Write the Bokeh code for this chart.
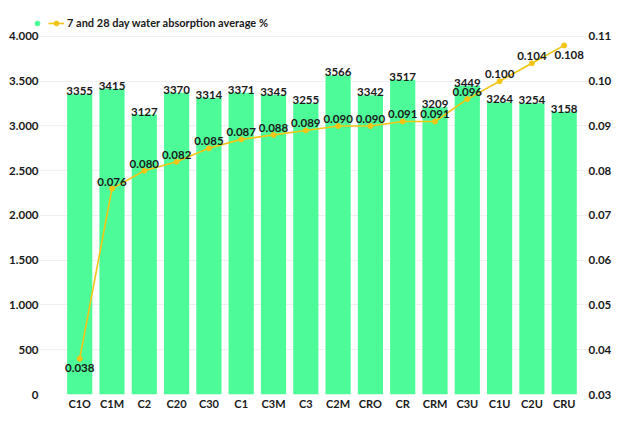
from bokeh.plotting import figure
from bokeh.models import (ColumnDataSource, Range1d, LinearAxis,
                          FixedTicker, Legend, LegendItem)
from bokeh.core.properties import value
from bokeh.embed import file_html
from bokeh.resources import INLINE

# ---- data ----
categories = ["C1O", "C1M", "C2", "C20", "C30", "C1", "C3M", "C3",
              "C2M", "CRO", "CR", "CRM", "C3U", "C1U", "C2U", "CRU"]
strength = [3355, 3415, 3127, 3370, 3314, 3371, 3345, 3255,
            3566, 3342, 3517, 3209, 3449, 3264, 3254, 3158]
absorption = [0.038, 0.076, 0.080, 0.082, 0.085, 0.087, 0.088, 0.089,
              0.090, 0.090, 0.091, 0.091, 0.096, 0.100, 0.104, 0.108]
left_ticks = [0, 500, 1000, 1500, 2000, 2500, 3000, 3500, 4000]
left_tick_labels = ["0", "500", "1.000", "1.500", "2.000", "2.500", "3.000", "3.500", "4.000"]
right_ticks = [0.03, 0.04, 0.05, 0.06, 0.07, 0.08, 0.09, 0.10, 0.11]
right_tick_labels = ["0.03", "0.04", "0.05", "0.06", "0.07", "0.08", "0.09", "0.10", "0.11"]
series_name = "7 and 28 day water absorption average %"

GREEN = "#4dfc98"
GOLD = "#f2c516"
TXT = "#1a1a1a"
FONT = "Lato"

# ---- layout (pixels) ----
W, H = 624, 412
FRAME_L, FRAME_R, FRAME_T, FRAME_B = 25, 590, 12, 395
AXIS_TOP_PX = 36          # where the top tick (4000 / 0.11) sits
FIRST_CENTER_PX = 79.2    # centre of the first category
STEP_PX = 32.3            # category spacing

frame_h = FRAME_B - FRAME_T
scale = frame_h / (FRAME_B - AXIS_TOP_PX)
x_start = -(FIRST_CENTER_PX - FRAME_L) / STEP_PX
x_end = x_start + (FRAME_R - FRAME_L) / STEP_PX

p = figure(width=W, height=H, output_backend="svg", toolbar_location=None,
           x_range=Range1d(x_start, x_end),
           y_range=Range1d(left_ticks[0], left_ticks[0] + (left_ticks[-1] - left_ticks[0]) * scale),
           min_border_left=FRAME_L, min_border_right=W - FRAME_R,
           min_border_top=FRAME_T, min_border_bottom=H - FRAME_B)
p.extra_y_ranges = {"abs": Range1d(right_ticks[0],
                                   right_ticks[0] + (right_ticks[-1] - right_ticks[0]) * scale)}
p.outline_line_color = None
p.background_fill_color = "white"

xs = list(range(len(categories)))
src = ColumnDataSource(dict(
    x=xs, strength=strength, absorption=absorption,
    slabel=[str(v) for v in strength],
))

bars = p.vbar(x="x", top="strength", width=0.78, source=src,
              fill_color=GREEN, line_color=None)
line = p.line(x="x", y="absorption", source=src, y_range_name="abs",
              line_color=GOLD, line_width=1.6)
pts = p.scatter(x="x", y="absorption", source=src, y_range_name="abs",
                size=5, fill_color=GOLD, line_color=GOLD)
# legend-only marker for the bar series (not drawn in the plot)
bar_key = p.scatter(x="x", y="strength", source=src, size=6,
                    fill_color=GREEN, line_color=GREEN, visible=False)

# bar labels
p.text(x="x", y="strength", text="slabel", source=src,
       text_align="center", text_baseline="bottom", y_offset=1,
       text_font=value(FONT), text_font_style="bold",
       text_font_size="11.5px", text_color=TXT)

# line labels
n = len(categories)
mid = list(range(1, n - 1))
src_mid = ColumnDataSource(dict(x=[xs[i] for i in mid],
                                a=[absorption[i] for i in mid],
                                t=["%.3f" % absorption[i] for i in mid]))
src_first = ColumnDataSource(dict(x=[xs[0]], a=[absorption[0]],
                                  t=["%.3f" % absorption[0]]))
src_last = ColumnDataSource(dict(x=[xs[-1]], a=[absorption[-1]],
                                 t=["%.3f" % absorption[-1]]))
common = dict(text_font=value(FONT), text_font_style="bold",
              text_font_size="11.5px", text_color=TXT, y_range_name="abs")
p.text(x="x", y="a", text="t", source=src_mid, text_align="center",
       text_baseline="bottom", y_offset=-3, **common)
p.text(x="x", y="a", text="t", source=src_first, text_align="center",
       text_baseline="top", y_offset=5, **common)
p.text(x="x", y="a", text="t", source=src_last, text_align="center",
       text_baseline="top", x_offset=5, y_offset=6, **common)

# axes
def style_axis(ax, size="11.5px"):
    ax.axis_line_color = None
    ax.major_tick_line_color = None
    ax.minor_tick_line_color = None
    ax.major_tick_out = 0
    ax.major_tick_in = 0
    ax.minor_tick_out = 0
    ax.minor_tick_in = 0
    ax.major_label_text_font = FONT
    ax.major_label_text_font_style = "bold"
    ax.major_label_text_font_size = size
    ax.major_label_text_color = TXT

xa = p.xaxis[0]
style_axis(xa, "11px")
xa.ticker = FixedTicker(ticks=xs)
xa.major_label_overrides = {i: c for i, c in zip(xs, categories)}
xa.major_label_standoff = 2

ya = p.yaxis[0]
style_axis(ya)
ya.ticker = FixedTicker(ticks=left_ticks)
ya.major_label_overrides = {t: l for t, l in zip(left_ticks, left_tick_labels)}
ya.major_label_standoff = -13

ra = LinearAxis(y_range_name="abs", ticker=FixedTicker(ticks=right_ticks))
style_axis(ra)
ra.major_label_overrides = {t: l for t, l in zip(right_ticks, right_tick_labels)}
ra.major_label_standoff = -2
p.add_layout(ra, "right")

p.xgrid.grid_line_color = None
p.ygrid.ticker = FixedTicker(ticks=left_ticks)
p.ygrid.grid_line_color = "#f0f0f0"

legend = Legend(items=[LegendItem(label=" ", renderers=[bar_key]),
                       LegendItem(label=series_name, renderers=[line, pts])],
                orientation="horizontal", location=(4, 365),
                border_line_color=None, background_fill_alpha=0,
                padding=0, margin=0, spacing=0, glyph_width=16,
                glyph_height=12, label_height=12, label_width=0,
                label_standoff=3, label_text_font=FONT,
                label_text_font_style="bold", label_text_font_size="11px",
                label_text_color=TXT)
p.add_layout(legend, "center")

open("out.html", "w").write(file_html(p, INLINE))
